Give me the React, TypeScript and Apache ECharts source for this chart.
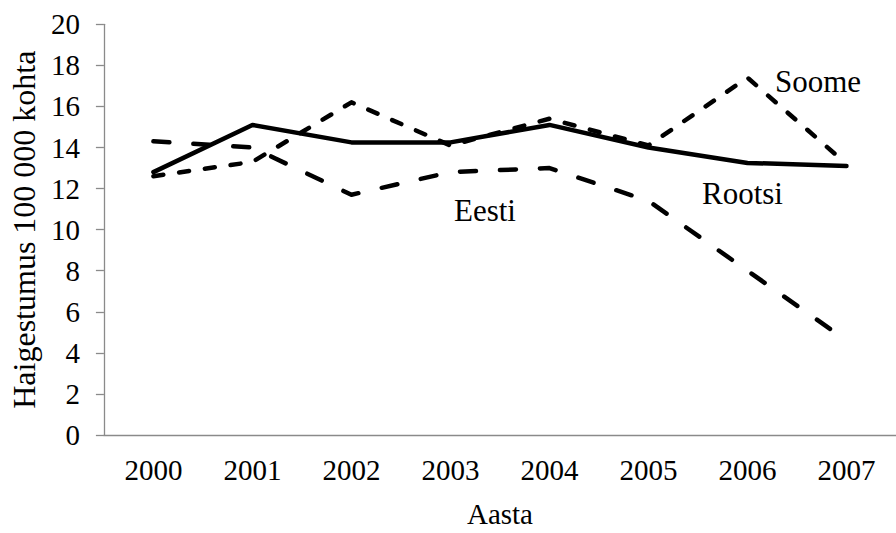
import React, { useEffect, useRef } from "react";
import * as echarts from "echarts";

const years = ["2000", "2001", "2002", "2003", "2004", "2005", "2006", "2007"];
const eesti = [14.3, 14.0, 11.7, 12.8, 13.0, 11.4, 8.0, 4.6];
const soome = [12.6, 13.3, 16.2, 14.1, 15.4, 14.1, 17.4, 13.2];
const rootsi = [12.8, 15.1, 14.25, 14.25, 15.1, 14.0, 13.25, 13.1];
const yTicks = { min: 0, max: 20, interval: 2 };

const FONT = "Liberation Serif";

export default function App() {
  const ref = useRef<HTMLDivElement>(null);
  useEffect(() => {
    if (!ref.current) return;
    const chart = echarts.init(ref.current, null, { renderer: "svg" });
    const axisColor = "#8a8a8a";
    chart.setOption({
      animation: false,
      backgroundColor: "#ffffff",
      textStyle: { fontFamily: FONT },
      grid: { left: 103.3, right: -6.3, top: 24.3, bottom: 90.3, containLabel: false },
      xAxis: {
        type: "category",
        data: years,
        boundaryGap: true,
        name: "Aasta",
        nameLocation: "middle",
        nameGap: 64,
        nameTextStyle: { fontFamily: FONT, fontSize: 29, color: "#000" },
        axisLine: { lineStyle: { color: axisColor, width: 1.3 } },
        axisTick: { alignWithLabel: true, length: 6, lineStyle: { color: axisColor, width: 1.3 } },
        axisLabel: { fontFamily: FONT, fontSize: 29, color: "#000", margin: 20 },
        splitLine: { show: false },
      },
      yAxis: {
        type: "value",
        min: yTicks.min,
        max: yTicks.max,
        interval: yTicks.interval,
        name: "Haigestumus 100 000 kohta",
        nameLocation: "middle",
        nameGap: 63,
        nameRotate: 90,
        nameTextStyle: { fontFamily: FONT, fontSize: 32, color: "#000" },
        axisLine: { show: true, lineStyle: { color: axisColor, width: 1.3 } },
        axisTick: { show: true, length: 8, lineStyle: { color: axisColor, width: 1.3 } },
        axisLabel: { fontFamily: FONT, fontSize: 29, color: "#000", margin: 24 },
        splitLine: { show: false },
      },
      series: [
        {
          name: "Eesti",
          type: "line",
          data: eesti,
          symbol: "none",
          lineStyle: { color: "#000", width: 4.5, type: [16, 24], cap: "round", join: "round" },
        },
        {
          name: "Soome",
          type: "line",
          data: soome,
          symbol: "none",
          lineStyle: { color: "#000", width: 4.5, type: [10, 16], cap: "round", join: "round" },
        },
        {
          name: "Rootsi",
          type: "line",
          data: rootsi,
          symbol: "none",
          lineStyle: { color: "#000", width: 4.5, type: "solid", cap: "round", join: "round" },
        },
      ],
      graphic: [
        { type: "text", left: 454, top: 195, style: { text: "Eesti", fontFamily: FONT, fontSize: 31, fill: "#000" } },
        { type: "text", left: 702, top: 178, style: { text: "Rootsi", fontFamily: FONT, fontSize: 31, fill: "#000" } },
        { type: "text", left: 775, top: 66, style: { text: "Soome", fontFamily: FONT, fontSize: 31, fill: "#000" } },
      ],
    });
    return () => chart.dispose();
  }, []);
  return (
    <div
      ref={ref}
      style={{ position: "fixed", left: 0, top: 0, width: 896, height: 533, background: "#fff" }}
    />
  );
}
